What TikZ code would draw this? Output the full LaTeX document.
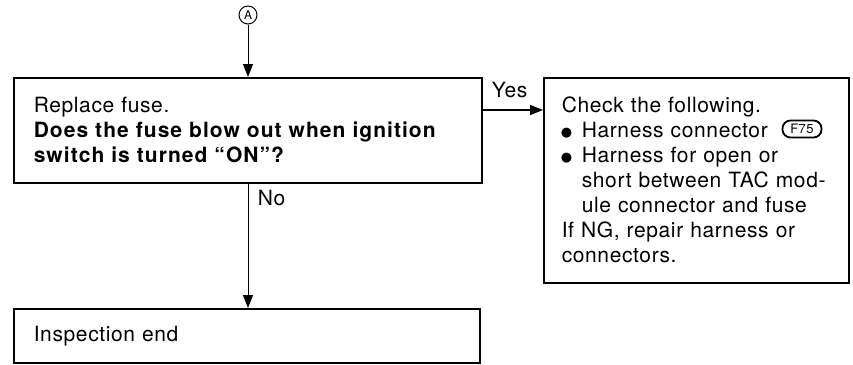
\documentclass[tikz,border=0pt]{standalone}
\usepackage{fontspec}
\setmainfont{TeX Gyre Heros}[LetterSpace=3]
\newfontfamily\symfont{DejaVu Sans}
\usetikzlibrary{arrows.meta,positioning}

\newcommand{\bul}{\makebox[21pt][l]{\raisebox{1pt}{\symfont\fontsize{13}{13}\selectfont ●}}}

\begin{document}
\begin{tikzpicture}[
  x=1pt, y=-1pt,
  box/.style={draw, line width=1.5pt, rectangle, anchor=north west, align=left, inner xsep=0pt, font=\fontsize{21}{25}\selectfont},
  lbl/.style={font=\fontsize{21}{25}\selectfont},
  conn/.style={draw, line width=1.8pt, rounded corners=8pt, minimum width=39pt, minimum height=17pt, inner sep=0pt, font=\fontsize{13}{13}\selectfont},
  >={Triangle[length=13pt,width=10pt]}
]
  \useasboundingbox (0,0) rectangle (853,364);

  \node[draw, circle, line width=1pt, minimum size=18pt, inner sep=0pt, font=\fontsize{12}{12}\selectfont] (a) at (248,15) {A};

  \node[box, minimum width=468pt, minimum height=105pt, text width=468pt] (q) at (13,77)
    {\hspace*{20pt}Replace fuse.\\
     \hspace*{20pt}\textbf{\addfontfeature{LetterSpace=5}Does the fuse blow out when ignition}\\
     \hspace*{20pt}\textbf{\addfontfeature{LetterSpace=5}switch is turned ``ON''?}};
  \node[box, minimum width=305pt, minimum height=205pt, text width=305pt] (chk) at (543,77)
    {\hspace*{18pt}Check the following.\\
     \hspace*{17pt}\bul Harness connector\\
     \hspace*{17pt}\bul Harness for open or\\
     \hspace*{38pt}short between TAC mod-\\
     \hspace*{38pt}ule connector and fuse\\
     \hspace*{18pt}If NG, repair harness or\\
     \hspace*{18pt}connectors.};
  \node[conn] (f75) at ([xshift=259pt, yshift=-52pt]chk.north west) {F75};
  \node[box, minimum width=466pt, minimum height=54pt, text width=466pt] (end) at (13,308) {\hspace*{20pt}Inspection end};

  \draw[line width=1pt, ->] (a) -- (a |- q.north);
  \draw[line width=1.5pt, ->] (q.east |- 0,110) -- node[lbl, above, pos=0.45, yshift=8pt] {Yes} (chk.west |- 0,110);
  \draw[line width=1pt, ->] (a |- q.south) -- node[lbl, right, pos=0.12, xshift=6pt] {No} (a |- end.north);
\end{tikzpicture}
\end{document}
